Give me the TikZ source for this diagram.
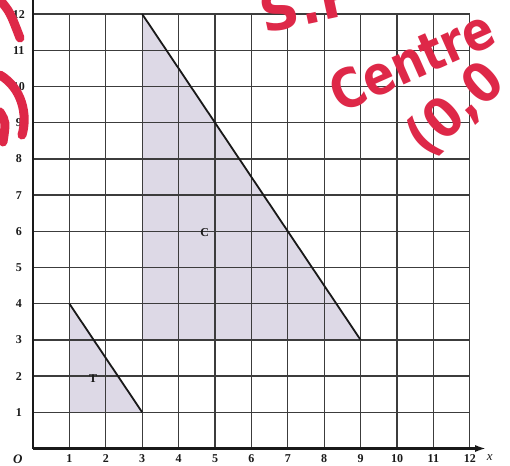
\documentclass[tikz,border=0pt]{standalone}
\usepackage{fontspec}
\setmainfont{Liberation Serif}
\newfontfamily\handfont{DejaVu Sans}
\usetikzlibrary{arrows.meta}
\definecolor{lavfill}{RGB}{221,217,230}
\definecolor{ink}{RGB}{25,25,25}
\definecolor{marker}{RGB}{222,40,72}
\tikzset{
  gridline/.style={draw=ink!85, line width=1.3pt},
  axisline/.style={draw=ink, line width=2.4pt},
  edgeline/.style={draw=ink, line width=1.8pt},
  num/.style={font=\fontsize{12}{12}\selectfont\bfseries, inner sep=0pt, text=ink},
  shapelabel/.style={font=\fontsize{12}{12}\selectfont\bfseries, inner sep=0pt, text=ink},
  hand/.style={text=marker, font=\handfont\bfseries\fontsize{54}{54}\selectfont, inner sep=0pt},
  scrawl/.style={draw=marker, line width=9pt, line cap=round}
}
\begin{document}
\begin{tikzpicture}[x=1pt,y=-1pt]
\useasboundingbox (0,0) rectangle (510,465);
\fill[white] (0,0) rectangle (510,465);
\begin{scope}[shift={(33,448.5)}, x=36.4pt, y=36.2pt]
  \coordinate (O) at (0,0);
  \coordinate (C1) at (3,12); \coordinate (C2) at (3,3); \coordinate (C3) at (9,3);
  \coordinate (T1) at (1,4); \coordinate (T2) at (1,1); \coordinate (T3) at (3,1);
  \coordinate (ytop) at (0,12.6);
  \coordinate (xend) at (12.45,0);
  \fill[lavfill] (C1) -- (C2) -- (C3) -- cycle;
  \fill[lavfill] (T1) -- (T2) -- (T3) -- cycle;
  \draw[gridline, step=1] (0,0) grid (12,12);
  \draw[edgeline] (C1) -- (C3);
  \draw[edgeline] (T1) -- (T3);
  \draw[axisline] (O) -- (ytop);
  \draw[axisline, -{Latex[length=11pt,width=7pt]}] (O) -- (xend);
  \foreach \i in {1,...,12} {
    \node[num] (xl\i) at (\i,-0.29) {\i};
    \node[num] (yl\i) at (-0.39,\i) {\i};
  }
  \node[num, font=\fontsize{13}{13}\selectfont\bfseries\itshape] (olab) at (-0.42,-0.29) {O};
  \node[num, font=\fontsize{13}{13}\selectfont\itshape] (xlab) at (12.55,-0.25) {x};
  \node[shapelabel] (clab) at (4.72,5.96) {C};
  \node[shapelabel] (tlab) at (1.65,1.92) {T};
\end{scope}
% red handwritten annotations
\node[hand, rotate=12] (sf) at (308,4) {S.F};
\node[hand, rotate=24, xscale=0.85] (centre) at (412,60) {Centre};
\node[hand, rotate=42, xscale=0.9] (origin) at (456,110) {(0,0};
\draw[scrawl] (0,0) .. controls (10,12) .. (20,38);
\draw[scrawl] (0,75) .. controls (22,88) and (28,115) .. (22,135);
\draw[scrawl] (0,112) .. controls (6,122) .. (3,142);
\end{tikzpicture}
\end{document}
